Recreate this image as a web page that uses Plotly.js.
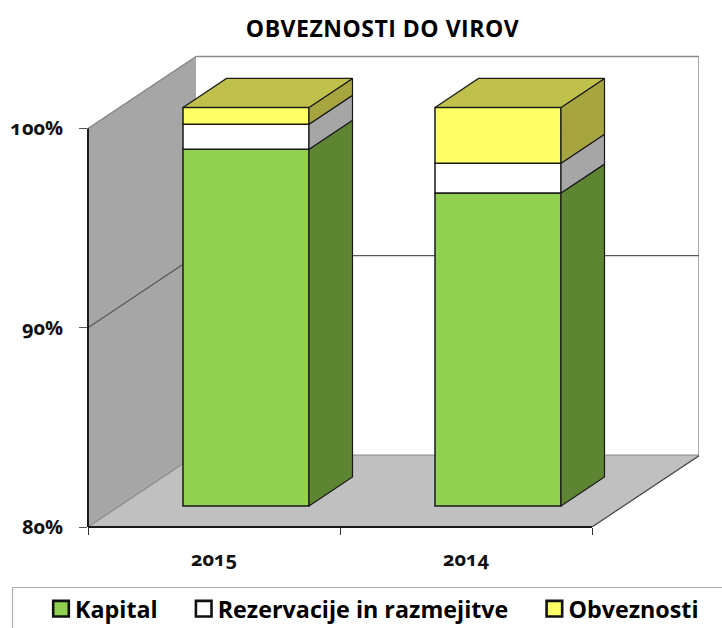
<!DOCTYPE html>
<html><head><meta charset="utf-8">
<script src="https://cdn.plot.ly/plotly-3.0.1.min.js"></script>
<style>
html,body{margin:0;padding:0;background:#fff;overflow:hidden}
#c text{font-feature-settings:"onum" 1,"lnum" 0;}
#c .gtitle{letter-spacing:0.5px}
#c .legend .legendsymbols{transform:translateX(41px)}
#c .legend .legendpoints path{transform:scale(1.3);stroke:#111 !important;stroke-width:2px !important}
</style></head><body><div id="c" style="width:722px;height:628px"></div>
<script>
// --- data ---
const categories = ['2015','2014'];
const positions = [0.5,1.5];
const kapital = [97.9,95.7];
const rezervacije = [1.25,1.5];
const obveznosti = [0.85,2.8];
const seriesNames = ['Kapital','Rezervacije in razmejitve','Obveznosti'];
const frontColors = ['#92d050','#ffffff','#ffff66'];
const sideColors = ['#5e8532','#a6a6a6','#a6a53f'];
const topColor = '#c0c04d';
const yTicks = [80,90,100];
const yTickLabels = ['80%','90%','100%'];

// --- scale and pseudo-3D projection (pixels per axis unit) ---
const W=722,H=628,L=88,T=55,R=699,B=527;
const pxX=252, pxY=19.93;
const xMax=(R-L)/pxX, yMax=80+(B-T)/pxY;
const wallDX=108/pxX, wallDY=72/pxY;
const barDX=32/pxX, barDY=21/pxY;
const depthDX=43.5/pxX, depthDY=29/pxY;
const barWidth=0.5;
const ink='#1a1a1a';

function poly(xs,ys,fill,line,lw,xa,ya){
  return {type:'scatter',mode:'lines',x:[...xs,xs[0]],y:[...ys,ys[0]],fill:'toself',fillcolor:fill,
    line:{color:line,width:lw},hoverinfo:'skip',showlegend:false,cliponaxis:false,xaxis:xa||'x',yaxis:ya||'y'};
}
function edge(xs,ys,color,lw){
  return {type:'scatter',mode:'lines',x:xs,y:ys,line:{color:color,width:lw},hoverinfo:'skip',showlegend:false,cliponaxis:false,xaxis:'x',yaxis:'y'};
}
const traces=[];
const x0=0,x1=2,yb=yTicks[0],yt=yTicks[2];
// back wall
traces.push(poly([x0+wallDX,xMax,xMax,x0+wallDX],[yb+wallDY,yb+wallDY,yt+wallDY,yt+wallDY],'#ffffff','rgba(0,0,0,0)',0));
// left wall
traces.push(poly([x0,x0+wallDX,x0+wallDX,x0],[yb,yb+wallDY,yt+wallDY,yt],'#a6a6a6','rgba(0,0,0,0)',0));
// floor
traces.push(poly([x0,x1,x1+wallDX,x0+wallDX],[yb,yb,yb+wallDY,yb+wallDY],'#c0c0c0','rgba(0,0,0,0)',0));
// edges and gridlines
traces.push(edge([x0+wallDX,xMax,xMax],[yt+wallDY,yt+wallDY,yb+wallDY],'#8c8c8c',1.5));
traces.push(edge([x0,x0+wallDX],[yt,yt+wallDY],'#808080',1.2));
traces.push(edge([x0,x0+wallDX,xMax],[90,90+wallDY,90+wallDY],'#5a5a5a',1.2));
traces.push(edge([x0,x0+wallDX,xMax],[yb,yb+wallDY,yb+wallDY],'#8a8a8a',1.2));
traces.push(edge([x1,x1+wallDX],[yb,yb+wallDY],'#404040',1.2));

// bars
const seriesVals=[kapital.map(v=>v-80),rezervacije,obveznosti];
const bases=[[80,80],[kapital[0],kapital[1]],[kapital[0]+rezervacije[0],kapital[1]+rezervacije[1]]];
seriesVals.forEach((vals,i)=>{
  traces.push({type:'bar',name:seriesNames[i],x:positions,y:vals,base:bases[i],width:barWidth,
    marker:{color:frontColors[i],line:{color:ink,width:1.5}},xaxis:'x2',yaxis:'y2',hoverinfo:'name+y'});
  positions.forEach((p,k)=>{
    const xr=p+barWidth/2, v0=bases[i][k], v1=v0+vals[k];
    traces.push(poly([xr,xr+depthDX,xr+depthDX,xr],[v0,v0+depthDY,v1+depthDY,v1],sideColors[i],ink,1.2,'x2','y2'));
    if(i===2){
      const xl=p-barWidth/2;
      traces.push(poly([xl,xr,xr+depthDX,xl+depthDX],[v1,v1,v1+depthDY,v1+depthDY],topColor,ink,1.2,'x2','y2'));
    }
  });
});

const font='"Open Sans", sans-serif';
const yFrac=v=>(v-80)/(yMax-80);
const layout={
  width:W,height:H,margin:{l:L,r:W-R,t:T,b:H-B,pad:0,autoexpand:false},
  paper_bgcolor:'#fff',plot_bgcolor:'rgba(0,0,0,0)',
  barmode:'overlay',
  title:{text:'OBVEZNOSTI DO VIROV',font:{family:font,size:23,weight:700,color:'#000'},x:(244+521)/2/W,xanchor:'center',y:1-29/H,yanchor:'middle'},
  xaxis:{range:[0,xMax],tickmode:'array',tickvals:positions,ticktext:categories,ticks:'',showgrid:false,zeroline:false,showline:false,
    tickfont:{family:font,size:20,weight:700,color:'#111'},ticklabelstandoff:18,
    minor:{tickmode:'array',tickvals:[0,1,2],ticks:'outside',ticklen:7,tickwidth:1,tickcolor:'#333',showgrid:false},fixedrange:true},
  yaxis:{range:[80,yMax],tickmode:'array',tickvals:yTicks,ticktext:yTickLabels,ticks:'outside',ticklen:8,tickwidth:1,tickcolor:'#555',
    showgrid:false,zeroline:false,showline:false,tickfont:{family:font,size:20,weight:700,color:'#111'},ticklabelstandoff:12,fixedrange:true},
  xaxis2:{range:[-barDX,xMax-barDX],overlaying:'x',visible:false,fixedrange:true},
  yaxis2:{range:[80-barDY,yMax-barDY],overlaying:'y',visible:false,fixedrange:true},
  showlegend:true,
  legend:{orientation:'h',x:(20-L)/(R-L),xanchor:'left',y:(B-609)/(B-T),yanchor:'middle',bgcolor:'rgba(0,0,0,0)',traceorder:'normal',itemwidth:45,
    font:{family:font,size:23.3,weight:700,color:'#000'}},
  shapes:[
    {type:'rect',xref:'paper',yref:'paper',x0:(12.5-L)/(R-L),x1:(740-L)/(R-L),y0:(B-660)/(B-T),y1:(B-587.5)/(B-T),line:{color:'#b0b0b0',width:1.2},fillcolor:'rgba(0,0,0,0)',layer:'below'},
    {type:'line',xref:'paper',yref:'paper',x0:0,x1:0,y0:yFrac(yb),y1:yFrac(yt),line:{color:ink,width:2},layer:'above'},
    {type:'line',xref:'paper',yref:'paper',x0:0,x1:x1/xMax,y0:yFrac(yb),y1:yFrac(yb),line:{color:ink,width:2},layer:'above'}
  ]
};
Plotly.newPlot('c',traces,layout,{displayModeBar:false,responsive:false});
</script></body></html>
